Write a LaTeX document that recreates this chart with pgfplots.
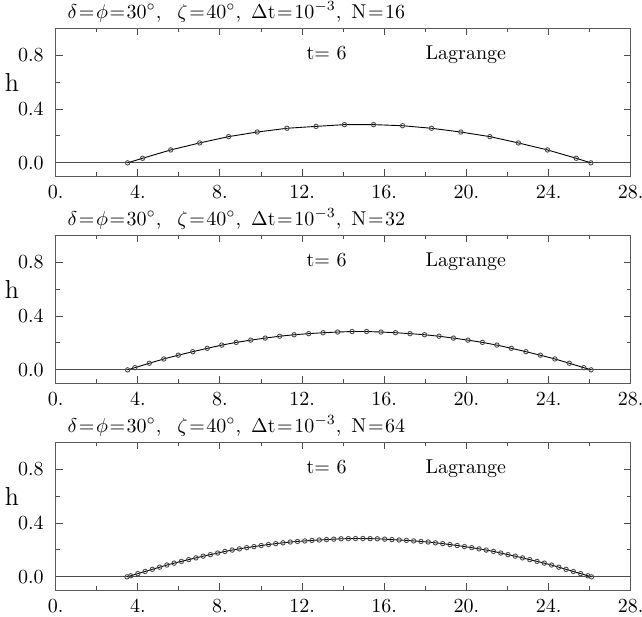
\documentclass[border=0pt]{standalone}
\usepackage{pgfplots}
\pgfplotsset{compat=1.18}
\pgfplotsset{panel/.style={
  scale only axis, width=287.5pt, height=74pt,
  xmin=0, xmax=28, ymin=-0.1, ymax=1.0,
  xtick={0,4,...,28}, xticklabels={0.,4.,8.,12.,16.,20.,24.,28.},
  minor xtick={2,6,...,26},
  ytick={0,0.4,0.8}, yticklabels={0.0,0.4,0.8},
  minor ytick={0.2,0.6},
  tick align=inside, xtick pos=both, ytick pos=both,
  xticklabel pos=bottom, yticklabel pos=left,
  yticklabel style={xshift=-2.5pt},
  xticklabel style={yshift=-1pt},
  major tick length=3.5pt, minor tick length=2pt,
  tick style={black!70, line width=0.5pt},
  axis line style={black!65, line width=0.7pt},
  every axis plot/.append style={line width=0.45pt},
  clip=false,
},
curve/.style={black, mark=o, mark size=1.1pt, mark options={black!70, line width=0.45pt, fill=white}},
zero/.style={black!70, line width=0.6pt, no marks}}
\newcommand{\eq}{\hspace{0.8pt}=\hspace{0.8pt}}
\newcommand{\ttl}[1]{$\delta$\eq$\phi$\eq30$^\circ$,\hspace{8pt}$\zeta$\eq40$^\circ$,\hspace{5pt}$\Delta$t\eq10$^{-3}$,\hspace{5pt}N\eq#1}
\newcommand{\hlab}{\fontsize{13}{15}\selectfont h}
\begin{document}
\begin{tikzpicture}
\useasboundingbox (-27.85pt,14.15pt) rectangle (293.15pt,-293.85pt);
% ---------- N=16 ----------
\begin{axis}[panel, at={(0pt,0pt)}, anchor=north west]
\addplot[zero] coordinates {(0,0) (28,0)};
\addplot[curve] coordinates {
(3.50,0) (4.23,0.034) (5.60,0.096) (7.01,0.148) (8.42,0.195) (9.81,0.229)
(11.26,0.257) (12.68,0.271) (14.06,0.284) (15.48,0.284) (16.89,0.276)
(18.30,0.257) (19.73,0.229) (21.14,0.195) (22.53,0.148) (23.95,0.096)
(25.35,0.034) (26.06,0)};
\node[anchor=base west, inner sep=0pt] at (rel axis cs:0.02,1.068) {\ttl{16}};
\node[anchor=base west, inner sep=0pt] at (axis cs:12.2,0.765) {t=\,\,6};
\node[anchor=base west, inner sep=0pt] at (axis cs:18.0,0.765) {Lagrange};
\node[inner sep=0pt] at (axis cs:0,0.6) [xshift=-21.85pt] {\hlab};
\end{axis}
% ---------- N=32 ----------
\begin{axis}[panel, at={(0pt,-103.5pt)}, anchor=north west]
\addplot[zero] coordinates {(0,0) (28,0)};
\addplot[curve] coordinates {
(3.50,0) (3.853,0.016) (4.558,0.049) (5.263,0.081) (5.969,0.109) (6.674,0.135)
(7.380,0.160) (8.085,0.184) (8.790,0.204) (9.496,0.221) (10.201,0.236)
(10.906,0.250) (11.612,0.261) (12.317,0.269) (13.022,0.276) (13.727,0.281)
(14.433,0.285) (15.137,0.285) (15.843,0.281) (16.548,0.276) (17.253,0.269)
(17.958,0.261) (18.664,0.250) (19.369,0.236) (20.074,0.221) (20.780,0.204)
(21.485,0.184) (22.190,0.160) (22.896,0.135) (23.601,0.109) (24.307,0.081)
(25.012,0.049) (25.717,0.016) (26.07,0)};
\node[anchor=base west, inner sep=0pt] at (rel axis cs:0.02,1.068) {\ttl{32}};
\node[anchor=base west, inner sep=0pt] at (axis cs:12.2,0.765) {t=\,\,6};
\node[anchor=base west, inner sep=0pt] at (axis cs:18.0,0.765) {Lagrange};
\node[inner sep=0pt] at (axis cs:0,0.6) [xshift=-21.85pt] {\hlab};
\end{axis}
% ---------- N=64 ----------
\begin{axis}[panel, at={(0pt,-207pt)}, anchor=north west]
\addplot[zero] coordinates {(0,0) (28,0)};
\addplot[curve] coordinates {
(3.47,0) (3.647,0.008) (4.000,0.024) (4.354,0.040) (4.707,0.056) (5.061,0.072)
(5.414,0.088) (5.767,0.102) (6.121,0.115) (6.474,0.128) (6.828,0.141)
(7.181,0.154) (7.534,0.165) (7.888,0.177) (8.241,0.189) (8.595,0.199)
(8.948,0.208) (9.301,0.217) (9.655,0.225) (10.008,0.233) (10.362,0.240)
(10.715,0.247) (11.068,0.253) (11.422,0.259) (11.775,0.263) (12.129,0.267)
(12.482,0.271) (12.835,0.274) (13.189,0.277) (13.542,0.280) (13.896,0.283)
(14.249,0.284) (14.602,0.285) (14.958,0.285) (15.311,0.284) (15.664,0.283)
(16.018,0.280) (16.371,0.277) (16.725,0.274) (17.078,0.271) (17.431,0.267)
(17.785,0.263) (18.138,0.259) (18.492,0.253) (18.845,0.247) (19.198,0.240)
(19.552,0.233) (19.905,0.225) (20.259,0.217) (20.612,0.208) (20.965,0.199)
(21.319,0.189) (21.672,0.177) (22.026,0.165) (22.379,0.154) (22.732,0.141)
(23.086,0.128) (23.439,0.115) (23.793,0.102) (24.146,0.088) (24.499,0.072)
(24.853,0.056) (25.206,0.040) (25.560,0.024) (25.913,0.008) (26.09,0)};
\node[anchor=base west, inner sep=0pt] at (rel axis cs:0.02,1.068) {\ttl{64}};
\node[anchor=base west, inner sep=0pt] at (axis cs:12.2,0.765) {t=\,\,6};
\node[anchor=base west, inner sep=0pt] at (axis cs:18.0,0.765) {Lagrange};
\node[inner sep=0pt] at (axis cs:0,0.6) [xshift=-21.85pt] {\hlab};
\end{axis}
\end{tikzpicture}
\end{document}
